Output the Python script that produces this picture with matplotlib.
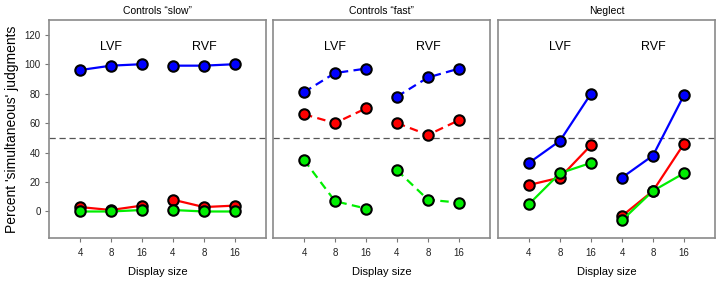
import matplotlib
matplotlib.use("Agg")
import matplotlib.pyplot as plt

plt.rcParams['font.family'] = ['Liberation Sans', 'DejaVu Sans']

panel_titles = ['Controls \u201cslow\u201d', 'Controls \u201cfast\u201d', 'Neglect']
tick_labels = ['4', '8', '16', '4', '8', '16']
field_labels = ['LVF', 'RVF']

# values per panel: [LVF(4,8,16), RVF(4,8,16)]
blue = [
    [[96, 99, 100], [99, 99, 100]],
    [[81, 94, 97], [78, 91, 97]],
    [[33, 48, 80], [23, 38, 79]],
]
red = [
    [[3, 1, 4], [8, 3, 4]],
    [[66, 60, 70], [60, 52, 62]],
    [[18, 23, 45], [-3, 14, 46]],
]
green = [
    [[0, 0, 1], [1, 0, 0]],
    [[35, 7, 2], [28, 8, 6]],
    [[5, 26, 33], [-6, 14, 26]],
]
line_styles = ['-', (0, (3.8, 2.4)), '-']

fig = plt.figure(figsize=(7.19, 2.82), dpi=100)
lefts = [49 / 719, 273 / 719, 498 / 719]
w = 217 / 719
b = 1 - 238 / 282
h = (238 - 20) / 282
series = [(blue, '#0000ff'), (red, '#ff0000'), (green, '#00ee00')]
for p in range(3):
    ax = fig.add_axes([lefts[p], b, w, h])
    ax.set_xlim(0, 7)
    ax.set_ylim(-18, 130)
    ax.axhline(50, color='#555555', lw=0.9, ls=(0, (5, 3)), zorder=1)
    for data, col in series:
        for f in range(2):
            xs = [1 + 3 * f, 2 + 3 * f, 3 + 3 * f]
            ax.plot(xs, data[p][f], color=col, lw=1.6, ls=line_styles[p],
                    marker='o', ms=7.5, mfc=col, mec='black', mew=1.5, zorder=3)
    for f in range(2):
        ax.text(2 + 3 * f, 112, field_labels[f], ha='center', va='center', fontsize=9)
    ax.set_xticks(range(1, 7))
    ax.set_xticklabels(tick_labels, fontsize=7, color='#222222')
    ax.tick_params(axis='x', length=3, width=0.8, color='#777777', pad=4)
    if p == 0:
        ax.set_yticks([0, 20, 40, 60, 80, 100, 120])
        ax.tick_params(axis='y', labelsize=7, length=3, width=0.8, color='#777777',
                       labelcolor='#222222', pad=3)
        ax.set_ylabel("Percent 'simultaneous' judgments", fontsize=10, labelpad=4)
    else:
        ax.set_yticks([])
    for s in ax.spines.values():
        s.set_color('#8a8a8a')
        s.set_linewidth(1.2)
    ax.set_xlabel('Display size', fontsize=8, labelpad=7)
    ax.set_title(panel_titles[p], fontsize=7.5, pad=4)

fig.savefig('out.png', dpi=100)
